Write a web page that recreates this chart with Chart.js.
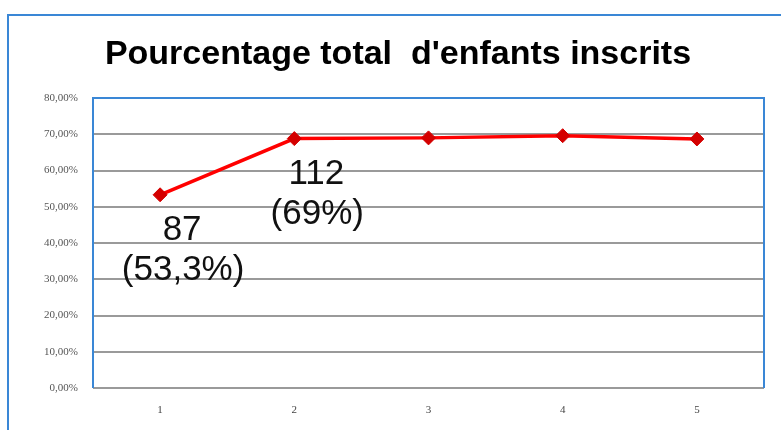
<!DOCTYPE html>
<html><head><meta charset="utf-8">
<script src="https://cdn.jsdelivr.net/npm/chart.js@4/dist/chart.umd.min.js"></script>
<style>
html,body{margin:0;padding:0;background:#fff;overflow:hidden;width:781px;height:430px;}
#frame{position:absolute;left:7px;top:14px;width:800px;height:440px;border:2px solid #3a87d6;box-sizing:border-box;}
#wrap{position:absolute;left:0;top:0;width:781px;height:430px;}
</style></head>
<body>
<div id="frame"></div>
<div id="wrap"><canvas id="c" width="781" height="430"></canvas></div>
<script>
const categories = ['1','2','3','4','5'];
const values = [53.3, 68.8, 69.0, 69.6, 68.7];
const yTickLabels = ['0,00%','10,00%','20,00%','30,00%','40,00%','50,00%','60,00%','70,00%','80,00%'];
const pointLabels = [['87','(53,3%)'], ['112','(69%)'], null, null, null];
const titleText = "Pourcentage total  d'enfants inscrits";

const labelPlugin = {
  id: 'labels',
  afterDatasetsDraw(chart) {
    const ctx = chart.ctx;
    const meta = chart.getDatasetMeta(0);
    ctx.save();
    ctx.font = '35px "Liberation Sans", Arial, sans-serif';
    ctx.fillStyle = '#111';
    ctx.textAlign = 'center';
    ctx.textBaseline = 'middle';
    meta.data.forEach((pt, i) => {
      const lab = pointLabels[i];
      if (!lab) return;
      ctx.fillText(lab[0], pt.x + 22, pt.y + 36);
      ctx.fillText(lab[1], pt.x + 23, pt.y + 76);
    });
    ctx.restore();
  }
};
const borderPlugin = {
  id: 'plotBorder',
  afterDraw(chart) {
    const a = chart.chartArea, ctx = chart.ctx;
    ctx.save();
    ctx.strokeStyle = '#3a87d6';
    ctx.lineWidth = 2;
    ctx.beginPath();
    ctx.moveTo(a.left, a.bottom);
    ctx.lineTo(a.left, a.top);
    ctx.lineTo(a.right, a.top);
    ctx.lineTo(a.right, a.bottom);
    ctx.stroke();
    ctx.restore();
  }
};
const titlePlugin = {
  id: 'titleText',
  afterDraw(chart) {
    const ctx = chart.ctx;
    ctx.save();
    ctx.font = 'bold 34px "Liberation Sans", Arial, sans-serif';
    ctx.fillStyle = '#000';
    ctx.textAlign = 'center';
    ctx.textBaseline = 'middle';
    ctx.fillText(titleText, 398, 55);
    ctx.restore();
  }
};

new Chart(document.getElementById('c'), {
  type: 'line',
  data: {
    labels: categories,
    datasets: [{
      data: values,
      borderColor: '#ff0000',
      borderWidth: 3.5,
      pointStyle: 'rectRot',
      pointRadius: 7,
      pointBackgroundColor: '#d40000',
      pointBorderColor: '#d40000',
      pointBorderWidth: 1,
      tension: 0
    }]
  },
  options: {
    responsive: false,
    animation: false,
    layout: { padding: { left: 0, right: 17, top: 98, bottom: 0 } },
    plugins: { legend: { display: false }, tooltip: { enabled: false }, title: { display: false } },
    scales: {
      x: {
        offset: true,
        grid: { display: false, drawTicks: false },
        border: { display: false },
        ticks: { padding: 16, color: '#444', font: { family: '"Liberation Serif", "Times New Roman", serif', size: 11 } },
        afterFit(s) { s.height = 42; }
      },
      y: {
        min: 0, max: 80,
        grid: { color: (c) => c.index === 8 ? 'rgba(0,0,0,0)' : '#9a9a9a', lineWidth: 2, drawTicks: false },
        border: { display: false },
        ticks: {
          stepSize: 10, padding: 15, color: '#555',
          font: { family: '"Liberation Serif", "Times New Roman", serif', size: 11 },
          callback: (v, i) => yTickLabels[i]
        },
        afterFit(s) { s.width = 93; }
      }
    }
  },
  plugins: [labelPlugin, borderPlugin, titlePlugin]
});
</script>
</body></html>
